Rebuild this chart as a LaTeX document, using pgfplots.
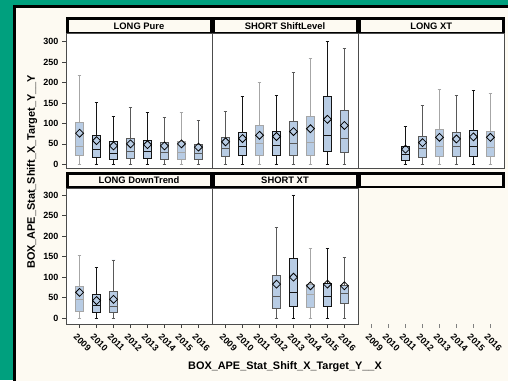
\documentclass[border=0pt]{standalone}
\usepackage{fontspec}
\setmainfont{Liberation Sans}
\usepackage{pgfplots}
\pgfplotsset{compat=1.18}
\usepgfplotslibrary{statistics}
\definecolor{bggreen}{RGB}{0,160,126}
\definecolor{cream}{RGB}{253,250,242}
\definecolor{boxblue}{RGB}{184,204,228}
\colorlet{cL}{black!35}
\colorlet{cM}{black!65}
\colorlet{cD}{black!92}
\newcommand{\bx}[7]{\addplot[draw=#7, fill=boxblue, line width=0.8pt,
  boxplot prepared={draw position=#1, lower whisker=#2, lower quartile=#3,
  median=#4, upper quartile=#5, upper whisker=#6}] coordinates {};}
\pgfplotsset{
 panel/.style={scale only axis, width=146pt, height=135pt, anchor=south west,
  xmin=-0.8, xmax=7.8,
  axis background/.style={fill=white},
  axis line style={draw=black!70, line width=0.8pt},
  tick align=outside, major tick length=4pt,
  tick style={black!75, line width=0.7pt},
  xtick={0,1,2,3,4,5,6,7},
  xticklabels={2009,2010,2011,2012,2013,2014,2015,2016},
  ytick={0,50,100,150,200,250,300},
  tick label style={font=\bfseries\fontsize{9}{10}\selectfont},
  /pgf/number format/assume math mode=true,
  xticklabel style={yshift=-5pt, xshift=-2pt, rotate=-45, anchor=north west, inner sep=0pt},
  boxplot/draw direction=y,
  boxplot/box extend=0.47, boxplot/whisker extend=0.22,
  clip=false},
 toprow/.style={ymin=-9, ymax=321, xtick=\empty},
 botrow/.style={ymin=-14, ymax=317, height=136pt},
 noy/.style={ytick=\empty},
 means/.style={only marks, mark=square, mark size=2.8pt,
  mark options={rotate=45, draw=black, line width=0.8pt, fill=none}},
}
\newcommand{\header}[4]{% x0 x1 ybottom text
  \fill[black] (#1,#3) rectangle (#2,#3+16);
  \fill[cream] (#1+3,#3+1.6) rectangle (#2-2.5,#3+13);
  \node[font=\bfseries\fontsize{9.4}{11}\selectfont] at ({(#1+#2)/2},#3+7.5) {#4};}
\begin{document}
\begin{tikzpicture}[x=1pt,y=1pt]
\path[use as bounding box] (0,0) rectangle (508,380);
\clip (0,0) rectangle (508,380);
\fill[bggreen] (0,0) rectangle (508,380);
\fill[black] (13,-10) rectangle (520,375);
\fill[cream] (16,-10) rectangle (520,372);

% LONG Pure
\begin{axis}[panel, toprow, at={(66pt,212pt)}]
\bx{0}{0}{22}{45}{102}{218}{cL}
\bx{1}{0}{17}{36}{70}{152}{cD}
\bx{2}{0}{12}{26}{55}{116}{cD}
\bx{3}{0}{15}{31}{64}{138}{cM}
\bx{4}{0}{15}{31}{59}{127}{cD}
\bx{5}{0}{13}{28}{53}{115}{cM}
\bx{6}{0}{13}{28}{56}{127}{cL}
\bx{7}{0}{11}{26}{49}{107}{cM}
\addplot[means] coordinates {(0,76) (1,58) (2,45) (3,50) (4,48) (5,45) (6,50) (7,42)};
\end{axis}

% SHORT ShiftLevel
\begin{axis}[panel, toprow, noy, at={(212pt,212pt)}]
\bx{0}{0}{19}{40}{67}{130}{cM}
\bx{1}{0}{21}{45}{78}{166}{cD}
\bx{2}{0}{23}{51}{94}{201}{cL}
\bx{3}{0}{22}{46}{80}{168}{cD}
\bx{4}{0}{22}{50}{104}{225}{cM}
\bx{5}{0}{22}{53}{116}{258}{cL}
\bx{6}{0}{31}{70}{165}{301}{cD}
\bx{7}{0}{29}{64}{132}{284}{cM}
\addplot[means] coordinates {(0,55) (1,63) (2,71) (3,68) (4,80) (5,87) (6,110) (7,95)};
\end{axis}

% LONG XT
\begin{axis}[panel, toprow, noy, at={(358pt,212pt)}]
\bx{2}{0}{10}{24}{45}{93}{cD}
\bx{3}{0}{17}{38}{68}{143}{cM}
\bx{4}{0}{19}{43}{86}{183}{cL}
\bx{5}{0}{19}{43}{78}{169}{cM}
\bx{6}{0}{19}{43}{83}{180}{cD}
\bx{7}{0}{19}{42}{81}{174}{cL}
\addplot[means] coordinates {(2,37) (3,53) (4,66) (5,62) (6,67) (7,66)};
\end{axis}

% LONG DownTrend
\begin{axis}[panel, botrow, at={(66pt,56pt)}]
\bx{0}{0}{17}{45}{78}{152}{cL}
\bx{1}{0}{14}{32}{58}{124}{cD}
\bx{2}{0}{14}{30}{65}{142}{cM}
\addplot[means] coordinates {(0,63) (1,43) (2,46)};
\end{axis}

% SHORT XT
\begin{axis}[panel, botrow, noy, at={(212pt,56pt)}]
\bx{3}{0}{25}{52}{104}{220}{cM}
\bx{4}{0}{29}{62}{146}{300}{cD}
\bx{5}{0}{27}{58}{83}{169}{cL}
\bx{6}{0}{29}{53}{85}{169}{cD}
\bx{7}{0}{35}{61}{81}{147}{cM}
\addplot[means] coordinates {(3,83) (4,100) (5,79) (6,83) (7,79)};
\end{axis}

% empty panel (ticks only)
\begin{axis}[panel, botrow, noy, at={(358pt,56pt)},
  axis background/.style={fill=none}, axis x line*=bottom, axis y line=none,
  x axis line style={draw=none}, tick style={black!50, line width=0.7pt}]
\addplot[draw=none] coordinates {(0,0)};
\end{axis}

\header{66}{212}{346.5}{LONG Pure}
\header{212}{358}{346.5}{SHORT ShiftLevel}
\header{358}{504.5}{346.5}{LONG XT}
\header{66}{212}{192}{LONG DownTrend}
\header{212}{358}{192}{SHORT XT}
\header{358}{504.5}{192}{}

\node[rotate=90, font=\bfseries\fontsize{10.9}{12}\selectfont] at (32,208) {BOX\_APE\_Stat\_Shift\_X\_Target\_Y\_\_Y};
\node[font=\bfseries\fontsize{10.9}{12}\selectfont] at (285,13) {BOX\_APE\_Stat\_Shift\_X\_Target\_Y\_\_X};
\end{tikzpicture}
\end{document}
